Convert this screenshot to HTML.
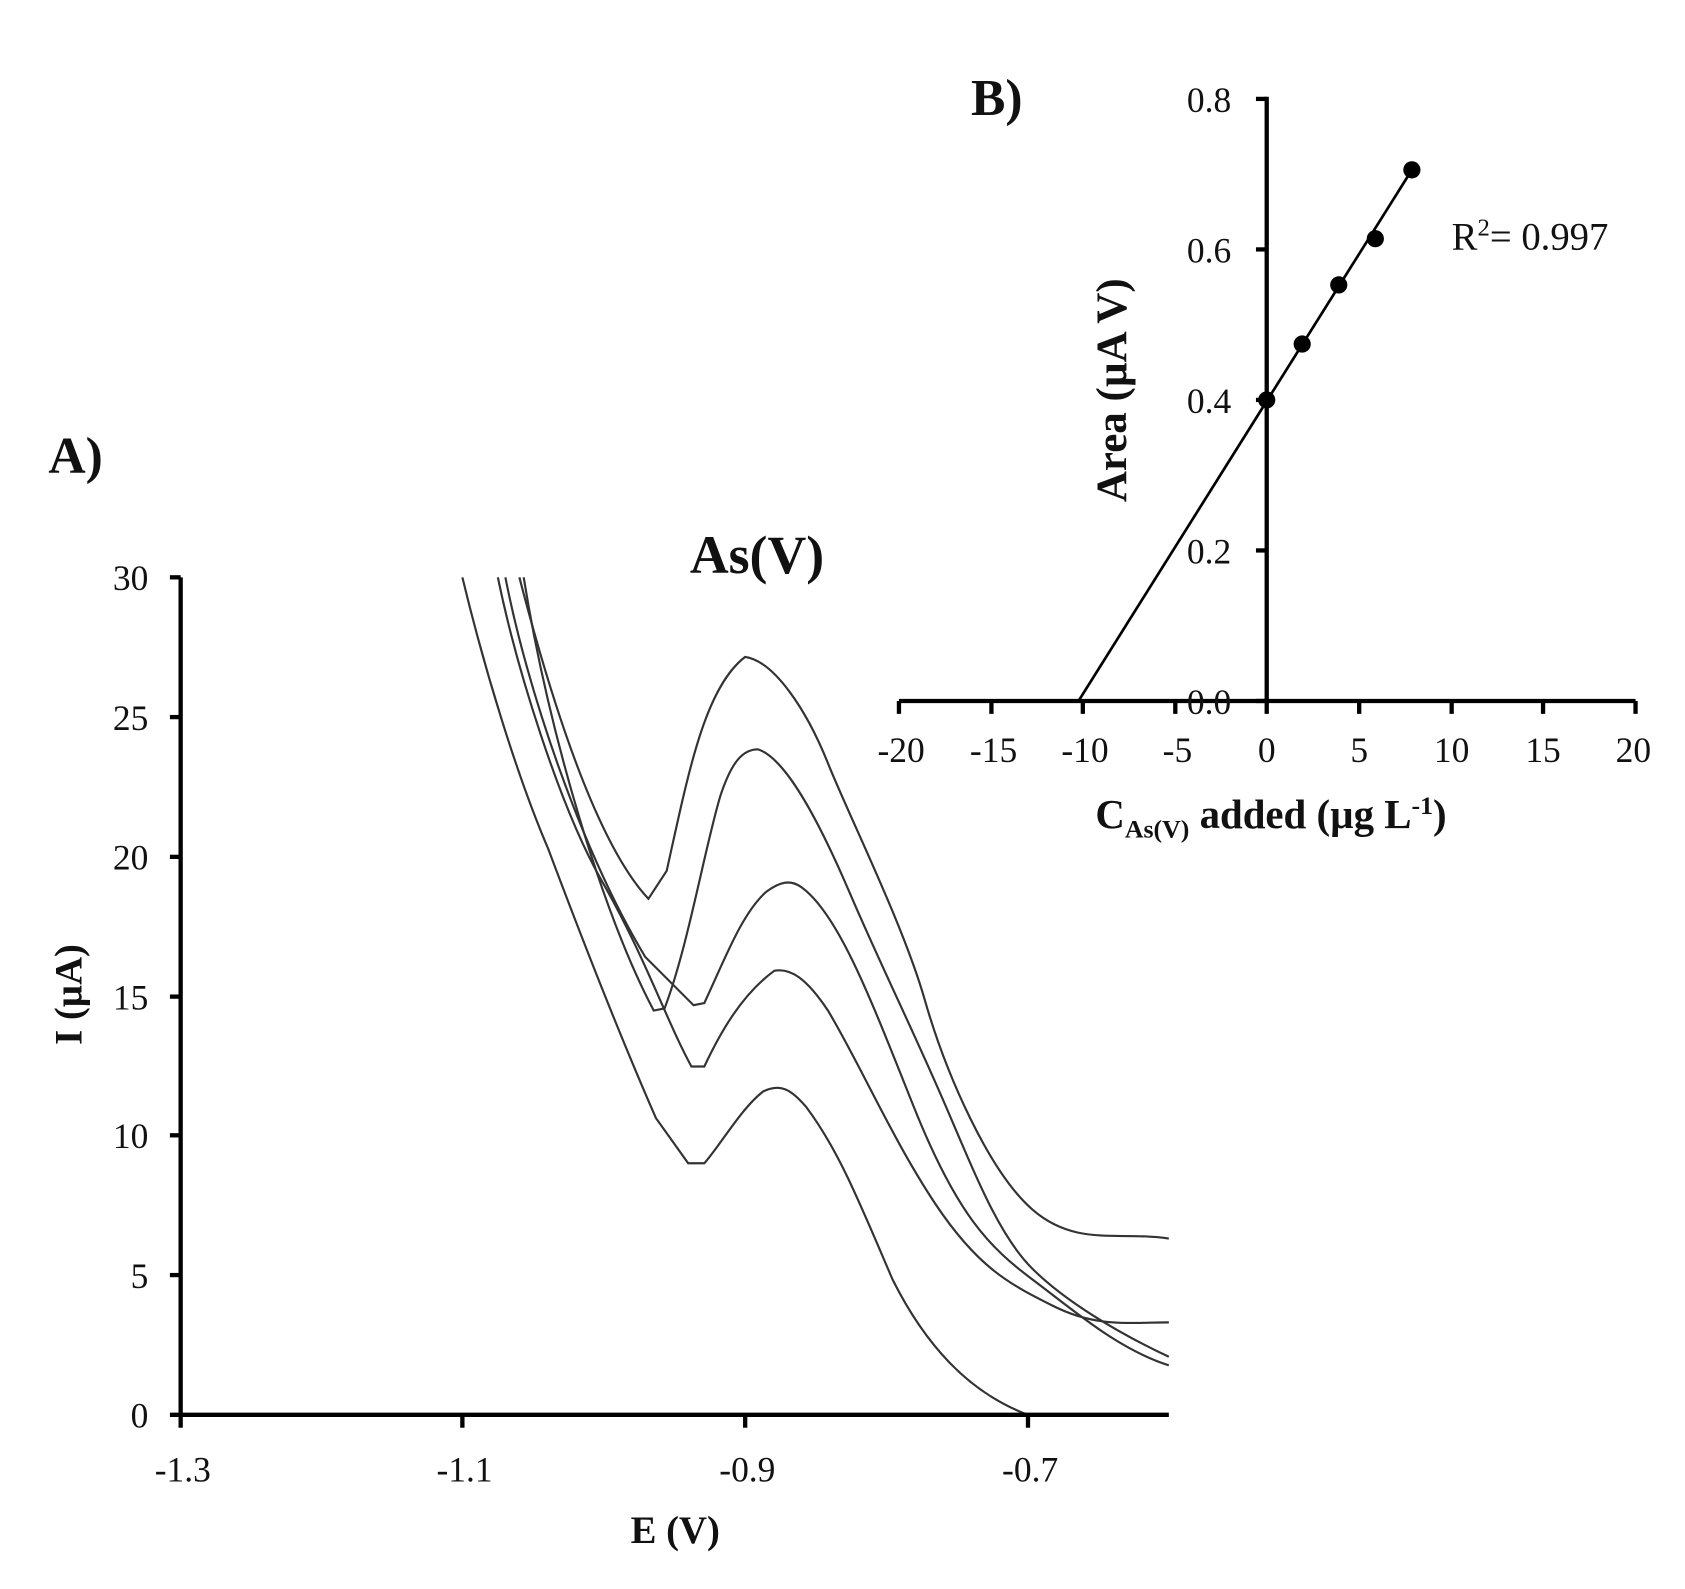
<!DOCTYPE html>
<html><head><meta charset="utf-8"><style>
html,body{margin:0;padding:0;background:#fff;}
svg{display:block;}
text{font-family:"Liberation Serif",serif;fill:#111;}
</style></head><body>
<svg width="1685" height="1589" viewBox="0 0 1567 1478" preserveAspectRatio="none" xmlns="http://www.w3.org/2000/svg">
<g fill="none" stroke="#333" stroke-width="2">
<path d="M483,537 C520,680 560,790 603,836 L620,810 C640,720 655,640 693,611 C720,615 750,660 770,710 S840,860 860,930 S920,1090 960,1125 S1040,1145 1087,1152"/>
<path d="M487,537 C510,680 560,850 608,940 L618,938 C640,880 655,790 670,740 C680,710 690,697 705,697 C730,705 760,760 790,830 S850,960 880,1030 S930,1150 960,1180 S1040,1240 1087,1262"/>
<path d="M470,537 C490,640 540,790 600,890 L645,935 L655,933 C675,890 690,850 712,830 C725,820 735,818 745,825 C780,850 810,930 850,1030 S920,1160 960,1190 S1040,1255 1087,1270"/>
<path d="M463,537 C480,620 520,750 560,820 S620,950 643,992 L655,992 C670,960 690,925 720,903 C735,900 750,910 770,940 C800,990 830,1060 870,1120 S940,1195 980,1215 S1050,1230 1087,1230"/>
<path d="M430,537 C450,620 480,720 510,790 C540,870 575,960 610,1040 L640,1082 L655,1082 C670,1065 690,1030 710,1015 C725,1008 735,1012 750,1030 C780,1070 800,1120 830,1190 C860,1250 900,1295 956,1316"/>
</g>
<g stroke="#000" stroke-width="4" fill="none">
<line x1="168" y1="537" x2="168" y2="1318"/>
<line x1="158" y1="1316" x2="1087" y2="1316"/>
<line x1="158" y1="537" x2="168" y2="537"/><line x1="158" y1="667" x2="168" y2="667"/><line x1="158" y1="797" x2="168" y2="797"/><line x1="158" y1="927" x2="168" y2="927"/><line x1="158" y1="1056" x2="168" y2="1056"/><line x1="158" y1="1186" x2="168" y2="1186"/>
<line x1="168" y1="1316" x2="168" y2="1328"/><line x1="430" y1="1316" x2="430" y2="1328"/><line x1="693" y1="1316" x2="693" y2="1328"/><line x1="956" y1="1316" x2="956" y2="1328"/>
</g>
<g font-size="33" text-anchor="end">
<text x="138" y="549">30</text><text x="138" y="679">25</text><text x="138" y="809">20</text><text x="138" y="939">15</text><text x="138" y="1068">10</text><text x="138" y="1198">5</text><text x="138" y="1328">0</text>
</g>
<g font-size="33" text-anchor="middle">
<text x="170" y="1378">-1.3</text><text x="432" y="1378">-1.1</text><text x="695" y="1378">-0.9</text><text x="958" y="1378">-0.7</text>
</g>
<text x="628" y="1435" font-size="36" font-weight="bold" text-anchor="middle">E (V)</text>
<text transform="translate(76,925) rotate(-90)" font-size="36" font-weight="bold" text-anchor="middle">I (µA)</text>
<text x="45" y="440" font-size="48" font-weight="bold">A)</text>
<text x="704" y="533" font-size="50" font-weight="bold" text-anchor="middle">As(V)</text>
<text x="903" y="107" font-size="48" font-weight="bold">B)</text>
<g stroke="#000" stroke-width="4" fill="none">
<line x1="1178" y1="90" x2="1178" y2="654"/>
<line x1="836" y1="652" x2="1521" y2="652"/>
<line x1="1168" y1="92" x2="1178" y2="92"/><line x1="1168" y1="232" x2="1178" y2="232"/><line x1="1168" y1="372" x2="1178" y2="372"/><line x1="1168" y1="512" x2="1178" y2="512"/><line x1="1168" y1="652" x2="1178" y2="652"/>
<line x1="836" y1="652" x2="836" y2="664"/><line x1="922" y1="652" x2="922" y2="664"/><line x1="1007" y1="652" x2="1007" y2="664"/><line x1="1093" y1="652" x2="1093" y2="664"/><line x1="1178" y1="652" x2="1178" y2="664"/><line x1="1264" y1="652" x2="1264" y2="664"/><line x1="1350" y1="652" x2="1350" y2="664"/><line x1="1435" y1="652" x2="1435" y2="664"/><line x1="1521" y1="652" x2="1521" y2="664"/>
</g>
<line x1="1003" y1="652" x2="1313" y2="158" stroke="#000" stroke-width="2.5"/>
<g fill="#000"><circle cx="1178" cy="372" r="8"/><circle cx="1211" cy="320" r="8"/><circle cx="1245" cy="265" r="8"/><circle cx="1279" cy="222" r="8"/><circle cx="1313" cy="158" r="8"/></g>
<g font-size="33" text-anchor="end">
<text x="1145" y="104">0.8</text><text x="1145" y="244">0.6</text><text x="1145" y="384">0.4</text><text x="1145" y="524">0.2</text><text x="1145" y="664">0.0</text>
</g>
<g font-size="33" text-anchor="middle">
<text x="838" y="709">-20</text><text x="924" y="709">-15</text><text x="1009" y="709">-10</text><text x="1095" y="709">-5</text><text x="1178" y="709">0</text><text x="1264" y="709">5</text><text x="1350" y="709">10</text><text x="1435" y="709">15</text><text x="1519" y="709">20</text>
</g>
<text x="1182" y="770" font-size="38" font-weight="bold" text-anchor="middle">C<tspan font-size="24" dy="9">As(V)</tspan><tspan dy="-9"> added  (µg L</tspan><tspan font-size="24" dy="-13">-1</tspan><tspan dy="13">)</tspan></text>
<text transform="translate(1047,363) rotate(-90)" font-size="40" font-weight="bold" text-anchor="middle">Area (µA V)</text>
<text x="1350" y="232" font-size="36">R<tspan font-size="23" dy="-13">2</tspan><tspan dy="13">= 0.997</tspan></text>
</svg>
</body></html>
